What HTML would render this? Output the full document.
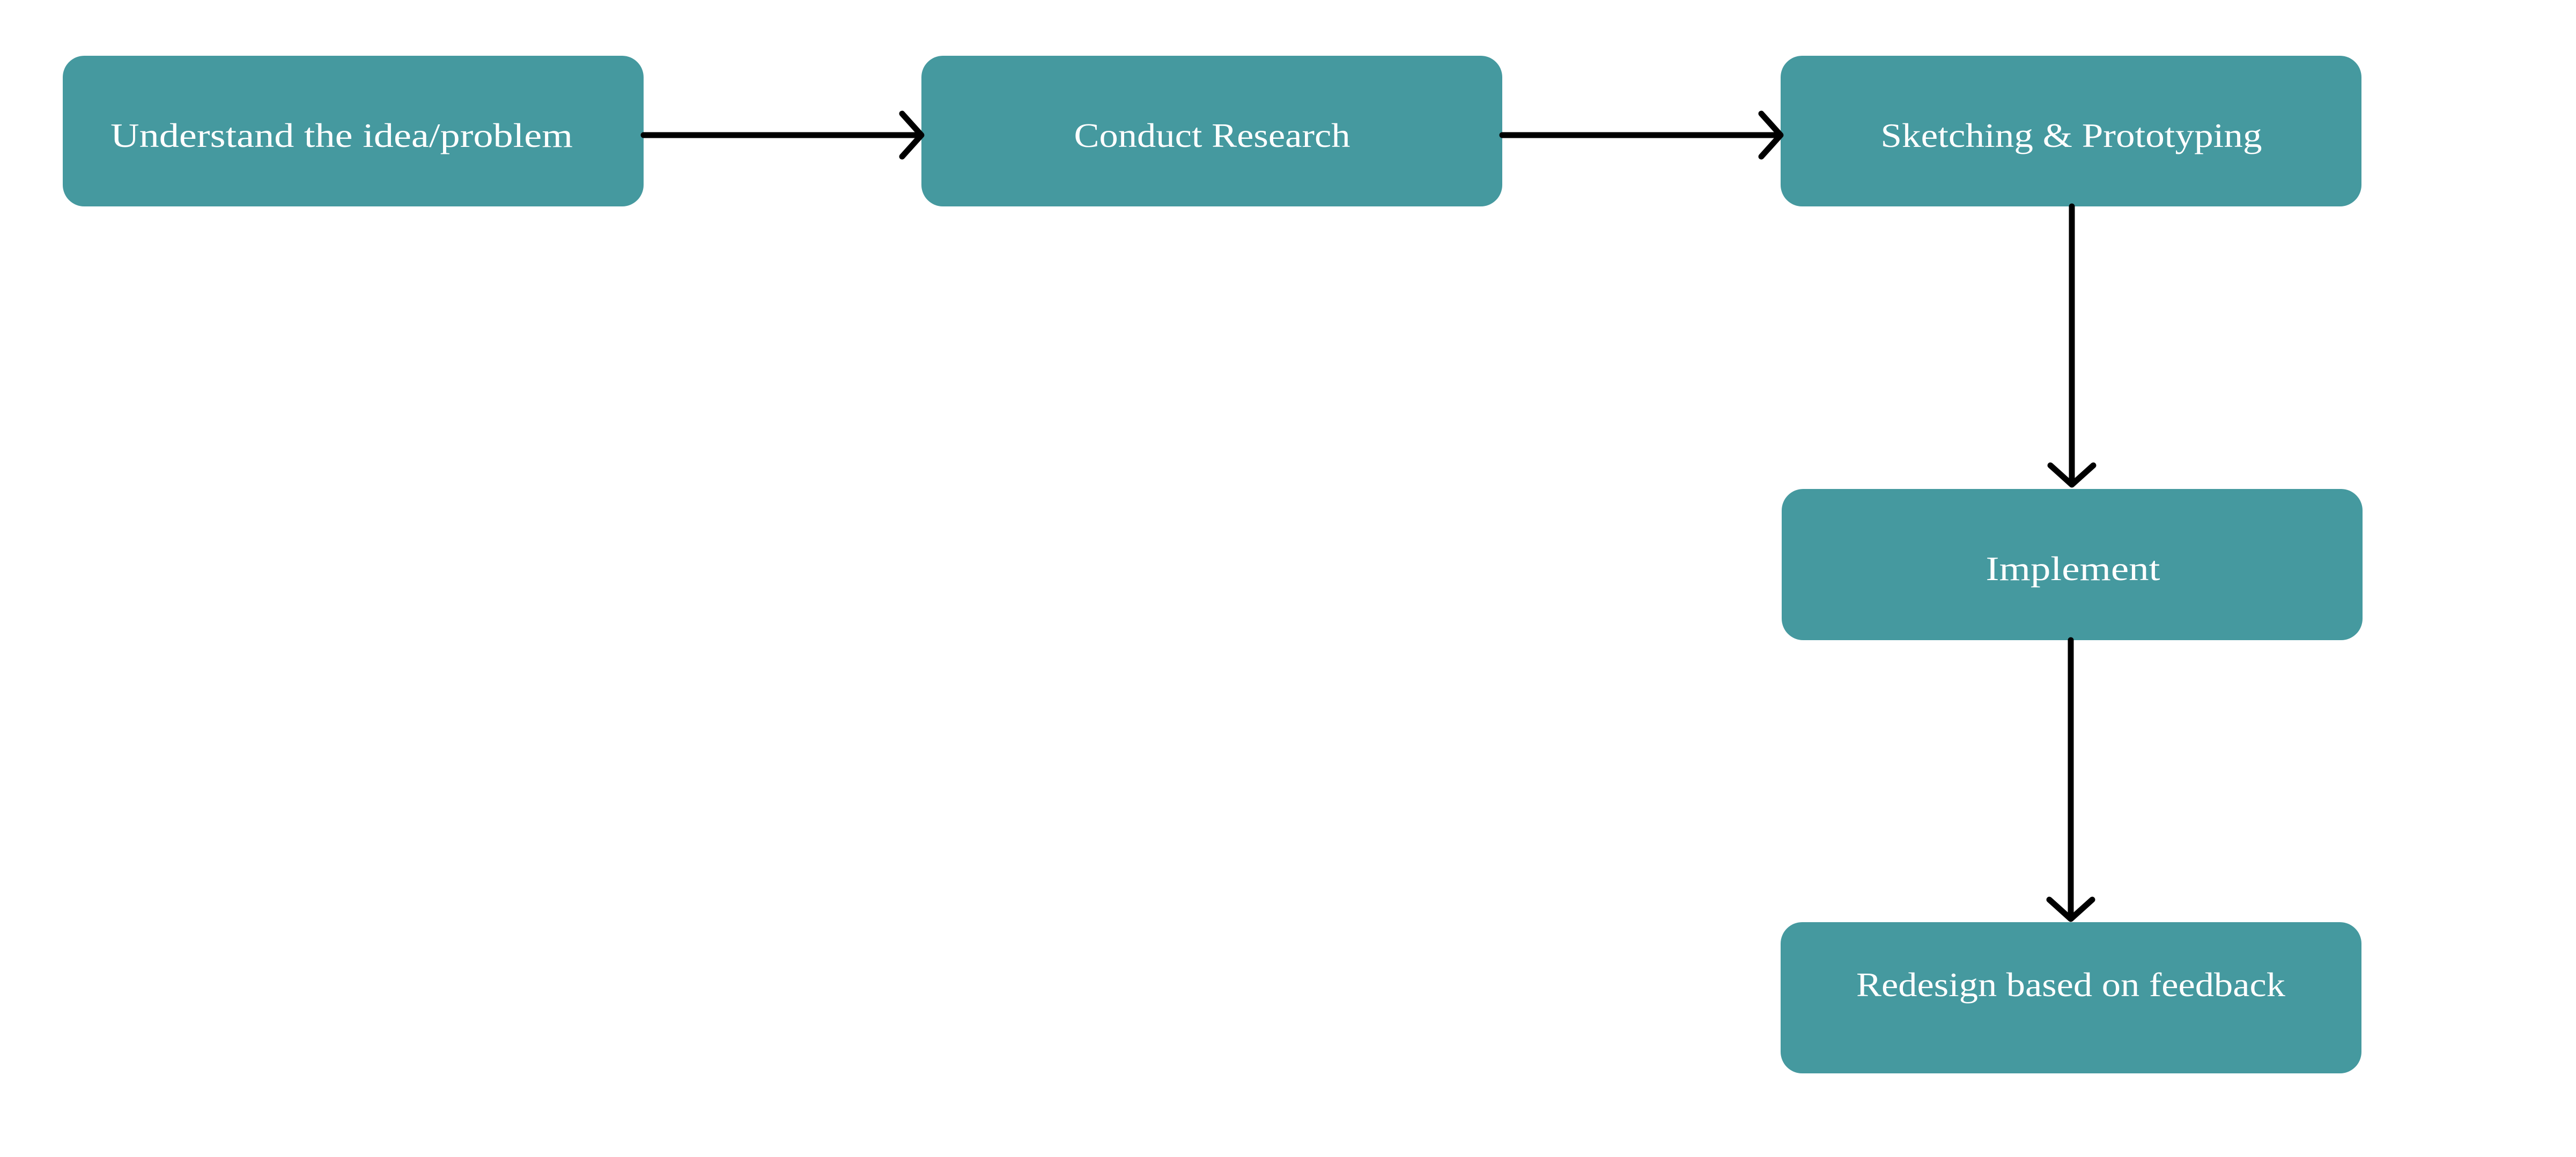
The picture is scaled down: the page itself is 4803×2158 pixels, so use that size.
<!DOCTYPE html>
<html><head><style>html,body{margin:0;padding:0;background:#fff}</style></head>
<body>
<svg width="4803" height="2153" viewBox="0 0 4803 2153" xmlns="http://www.w3.org/2000/svg">
<g fill="#45999f">
<rect x="117" y="104" width="1083" height="281" rx="40"/>
<rect x="1718" y="104" width="1083" height="281" rx="40"/>
<rect x="3320" y="104" width="1083" height="281" rx="40"/>
<rect x="3322" y="912" width="1083" height="282" rx="40"/>
<rect x="3320" y="1720" width="1083" height="282" rx="40"/>
</g>
<g stroke="#000" stroke-width="11" fill="none" stroke-linecap="round" stroke-linejoin="round">
<line x1="1200" y1="252" x2="1716" y2="252"/>
<polyline points="1682,212 1718,252 1682,292"/>
<line x1="2801" y1="252" x2="3318" y2="252"/>
<polyline points="3284,212 3320,252 3284,292"/>
<line x1="3863" y1="385" x2="3863" y2="902"/>
<polyline points="3823,868 3863,904 3903,868"/>
<line x1="3861" y1="1194" x2="3861" y2="1712"/>
<polyline points="3821,1678 3861,1714 3901,1678"/>
</g>
<g fill="#fff" font-family="Liberation Serif, serif" font-size="64" text-anchor="middle">
<text x="637" y="274" textLength="862" lengthAdjust="spacingAndGlyphs">Understand the idea/problem</text>
<text x="2260" y="274" textLength="515" lengthAdjust="spacingAndGlyphs">Conduct Research</text>
<text x="3862" y="274" textLength="711" lengthAdjust="spacingAndGlyphs">Sketching &amp; Prototyping</text>
<text x="3865" y="1082" textLength="325" lengthAdjust="spacingAndGlyphs">Implement</text>
<text x="3861" y="1858" textLength="800" lengthAdjust="spacingAndGlyphs">Redesign based on feedback</text>
</g>
</svg>
</body></html>
